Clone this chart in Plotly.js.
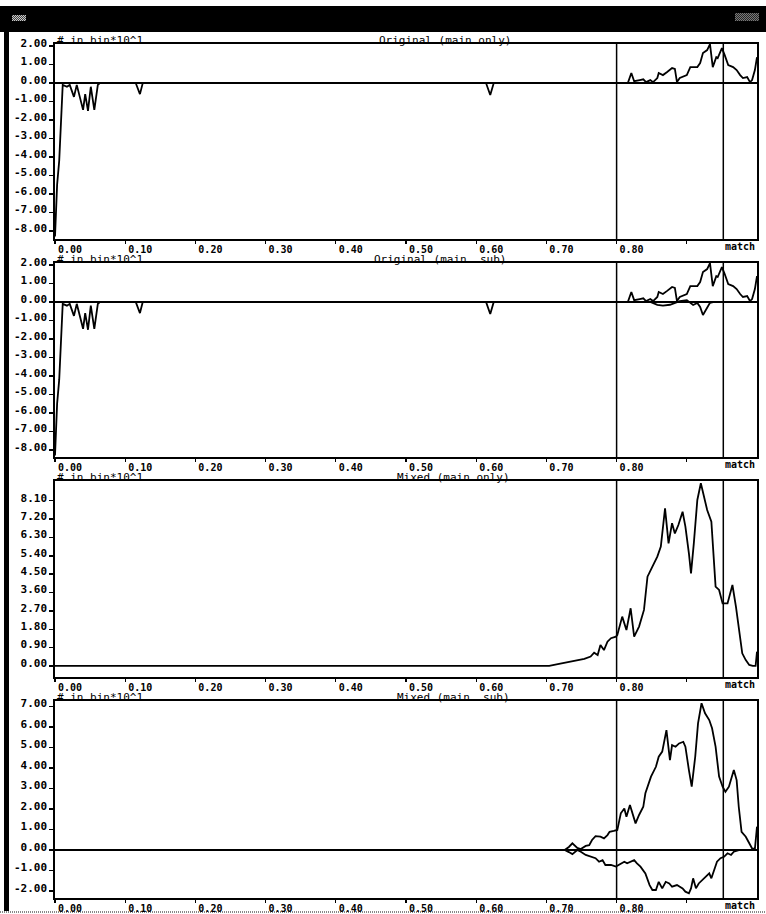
<!DOCTYPE html>
<html>
<head>
<meta charset="utf-8">
<script src="https://cdn.plot.ly/plotly-3.0.1.min.js"></script>
<style>
  html, body { margin: 0; padding: 0; background: #fff; }
  #wrap { position: relative; width: 766px; height: 914px; overflow: hidden; background: #fff; }
  #titlebar { position: absolute; left: 0; top: 6px; width: 766px; height: 26px; background: #000; }
  .dither { position: absolute; background: repeating-conic-gradient(#c8c8c8 0 25%, #404040 0 50%) 0 0 / 2px 2px; }
  #leftbar { position: absolute; left: 4px; top: 6px; width: 5px; height: 906px; background: #000; }
  #bottomline { position: absolute; left: 0; top: 911px; width: 766px; height: 2px;
                background: repeating-linear-gradient(90deg, #888 0 1px, #fff 1px 2px); }
  #chart { position: absolute; left: 0; top: 0; width: 766px; height: 914px; }
</style>
</head>
<body>
<div id="wrap">
  <div id="titlebar">
    <div class="dither" style="left:12px; top:9px; width:14px; height:6px;"></div>
    <div class="dither" style="left:735px; top:7px; width:24px; height:8px; opacity:0.6;"></div>
  </div>
  <div id="leftbar"></div>
  <div id="bottomline"></div>
  <div id="chart"></div>
</div>
<script>
// ---- axis ticks ----
const xTickVals = [0, 0.1, 0.2, 0.3, 0.4, 0.5, 0.6, 0.7, 0.8, 0.9];
const xTickText = ["0.00", "0.10", "0.20", "0.30", "0.40", "0.50", "0.60", "0.70", "0.80", ""];
const xEndLabel = "match";

const yTickValsOrig = [2, 1, 0, -1, -2, -3, -4, -5, -6, -7, -8];
const yTickTextOrig = ["2.00", "1.00", "0.00", "-1.00", "-2.00", "-3.00", "-4.00", "-5.00", "-6.00", "-7.00", "-8.00"];
const yTickValsMixMain = [8.1, 7.2, 6.3, 5.4, 4.5, 3.6, 2.7, 1.8, 0.9, 0];
const yTickTextMixMain = ["8.10", "7.20", "6.30", "5.40", "4.50", "3.60", "2.70", "1.80", "0.90", "0.00"];
const yTickValsMixSub = [7, 6, 5, 4, 3, 2, 1, 0, -1, -2];
const yTickTextMixSub = ["7.00", "6.00", "5.00", "4.00", "3.00", "2.00", "1.00", "0.00", "-1.00", "-2.00"];

// cut positions drawn as vertical markers
const cutLines = [0.8, 0.952];

const unitLabel = "# in bin*10^1";
const panelTitles = ["Original (main only)", "Original (main\u00a0 sub)", "Mixed (main only)", "Mixed (main\u00a0 sub)"];

// ---- histograms (# in bin, units of 10) ----
const origMainX = [0, 0.003, 0.006, 0.009, 0.011, 0.017, 0.021, 0.027, 0.031, 0.040, 0.043, 0.047, 0.051, 0.056, 0.061, 0.064,
  0.115, 0.121, 0.125, 0.614, 0.620, 0.625,
  0.801, 0.816, 0.821, 0.825, 0.833, 0.838, 0.842, 0.848, 0.852, 0.858, 0.860, 0.866, 0.872, 0.879, 0.883, 0.886, 0.890,
  0.900, 0.905, 0.909, 0.915, 0.919, 0.923, 0.929, 0.933, 0.937, 0.942, 0.944, 0.950, 0.954, 0.959, 0.966, 0.971,
  0.976, 0.980, 0.986, 0.990, 0.993, 0.997, 1.0];
const origMainY = [-8.3, -5.5, -4.2, -1.8, -0.1, -0.2, -0.1, -0.75, -0.1, -1.45, -0.6, -1.5, -0.2, -1.45, -0.1, 0,
  0, -0.6, 0, 0, -0.65, 0,
  0, 0, 0.54, 0.1, 0.16, 0.2, 0.05, 0.16, 0.05, 0.27, 0.54, 0.43, 0.6, 0.81, 0.76, 0.05, 0.27,
  0.43, 0.86, 0.86, 0.86, 1.08, 1.62, 1.78, 2.1, 0.86, 1.4, 1.35, 1.89, 1.51, 0.97, 0.86, 0.7,
  0.43, 0.27, 0.32, 0.05, 0.16, 0.7, 1.4];

const origSubX = [0, 0.848, 0.858, 0.866, 0.876, 0.883, 0.890, 0.900, 0.909, 0.915, 0.919, 0.923, 0.929, 0.933, 0.939, 1.0];
const origSubY = [0, 0, -0.15, -0.2, -0.15, -0.05, 0.05, 0.1, -0.16, -0.05, -0.27, -0.7, -0.32, -0.05, 0, 0];

const mixMainX = [0, 0.704, 0.718, 0.732, 0.744, 0.754, 0.763, 0.768, 0.773, 0.777, 0.782, 0.787, 0.792, 0.799,
  0.801, 0.808, 0.814, 0.820, 0.825, 0.832, 0.839, 0.844, 0.851, 0.858, 0.863, 0.869, 0.874, 0.879, 0.883, 0.888,
  0.894, 0.898, 0.903, 0.906, 0.910, 0.915, 0.920, 0.924, 0.929, 0.935, 0.939, 0.941, 0.946, 0.951, 0.958, 0.965,
  0.970, 0.974, 0.979, 0.984, 0.989, 0.994, 0.998, 1.0];
const mixMainY = [0, 0, 0.1, 0.2, 0.3, 0.35, 0.46, 0.65, 0.54, 1.03, 0.78, 1.19, 1.36, 1.44,
  1.52, 2.42, 1.76, 2.83, 1.44, 1.93, 2.75, 4.38, 4.87, 5.36, 5.85, 7.73, 6.01, 7.0, 6.5, 6.91,
  7.56, 6.83, 5.52, 4.54, 6.01, 8.14, 8.96, 8.3, 7.65, 7.07, 5.2, 3.89, 3.73, 3.07, 3.07, 3.97,
  2.91, 1.93, 0.62, 0.29, 0.05, 0, 0, 0.7];

const mixSumX = [0, 0.726, 0.732, 0.737, 0.744, 0.749, 0.756, 0.761, 0.765, 0.770, 0.777, 0.782, 0.787, 0.790, 0.796,
  0.801, 0.803, 0.806, 0.811, 0.814, 0.819, 0.822, 0.827, 0.832, 0.838, 0.841, 0.849, 0.856, 0.860, 0.865, 0.871,
  0.876, 0.879, 0.884, 0.889, 0.895, 0.898, 0.903, 0.907, 0.912, 0.916, 0.921, 0.926, 0.932, 0.936, 0.941, 0.946,
  0.951, 0.955, 0.960, 0.967, 0.971, 0.974, 0.978, 0.984, 0.989, 0.993, 0.997, 1.0];
const mixSumY = [0, 0, 0.15, 0.33, 0.1, 0.05, 0.2, 0.24, 0.49, 0.68, 0.65, 0.57, 0.73, 0.89, 0.93,
  0.98, 1.3, 1.79, 2.03, 1.62, 2.2, 1.87, 1.3, 1.71, 2.11, 2.77, 3.58, 4.06, 4.55, 4.8, 5.85,
  4.39, 5.12, 5.04, 5.2, 5.28, 5.04, 3.9, 3.09, 4.55, 6.18, 7.16, 6.67, 6.34, 5.94, 5.04, 3.58,
  3.09, 2.84, 3.09, 3.9, 3.41, 2.11, 0.89, 0.65, 0.33, 0.08, 0.05, 1.14];

const mixSubX = [0, 0.726, 0.732, 0.737, 0.744, 0.749, 0.756, 0.763, 0.770, 0.775, 0.780, 0.784, 0.792, 0.799, 0.803,
  0.811, 0.815, 0.820, 0.825, 0.829, 0.834, 0.841, 0.847, 0.851, 0.856, 0.860, 0.865, 0.870, 0.875, 0.879, 0.886,
  0.894, 0.898, 0.903, 0.906, 0.909, 0.913, 0.917, 0.922, 0.927, 0.932, 0.935, 0.939, 0.943, 0.948, 0.953, 0.958,
  0.963, 0.967, 0.974, 1.0];
const mixSubY = [0, 0, -0.1, -0.2, 0, -0.08, -0.24, -0.33, -0.4, -0.57, -0.49, -0.73, -0.73, -0.81, -0.73,
  -0.57, -0.65, -0.57, -0.49, -0.65, -0.81, -1.14, -1.71, -1.95, -1.95, -1.55, -1.87, -1.55, -1.63, -1.79, -1.71,
  -1.87, -2.03, -2.11, -1.87, -1.38, -1.87, -1.63, -1.46, -1.3, -1.14, -1.38, -0.98, -0.57, -0.4, -0.33, -0.16,
  -0.24, -0.08, 0, 0];

// ---- layout helpers ----
const MONO = "DejaVu Sans Mono, Liberation Mono, monospace";
const lineStyle = { color: "#000", width: 1.8 };

function xAxis(anchor) {
  return {
    anchor: anchor, domain: [0, 1], range: [0, 1], fixedrange: true,
    showline: true, mirror: true, linecolor: "#000", linewidth: 1.7,
    showgrid: false, zeroline: false,
    ticks: "outside", ticklen: 3, tickwidth: 1.4, tickcolor: "#000",
    tickmode: "array", tickvals: xTickVals, ticktext: xTickText,
    ticklabelshift: 15, ticklabelstandoff: -3,
    tickfont: { family: MONO, size: 10, color: "#000", weight: 700 }
  };
}
function yAxis(anchor, domain, range, vals, text, zero) {
  return {
    anchor: anchor, domain: domain, range: range, fixedrange: true,
    showline: true, mirror: true, linecolor: "#000", linewidth: 1.7,
    showgrid: false, zeroline: zero, zerolinecolor: "#000", zerolinewidth: 2,
    ticks: "outside", ticklen: 4, tickwidth: 1.4, tickcolor: "#000",
    tickmode: "array", tickvals: vals, ticktext: text,
    ticklabelshift: -3,
    tickfont: { family: MONO, size: 11, color: "#000", weight: 700 }
  };
}

const traces = [
  { x: origMainX, y: origMainY, xaxis: "x", yaxis: "y" },
  { x: origMainX, y: origMainY, xaxis: "x2", yaxis: "y2" },
  { x: origSubX, y: origSubY, xaxis: "x2", yaxis: "y2" },
  { x: mixMainX, y: mixMainY, xaxis: "x3", yaxis: "y3" },
  { x: mixSumX, y: mixSumY, xaxis: "x4", yaxis: "y4" },
  { x: mixSubX, y: mixSubY, xaxis: "x4", yaxis: "y4" }
].map(t => Object.assign(t, { type: "scatter", mode: "lines", line: lineStyle, hoverinfo: "skip" }));

const axisIds = ["", "2", "3", "4"];
const titleX = [0.556, 0.548, 0.567, 0.567];

const shapes = [];
const annotations = [];
axisIds.forEach((id, i) => {
  cutLines.forEach(c => shapes.push({
    type: "line", xref: "x" + id, yref: "y" + id + " domain",
    x0: c, x1: c, y0: 0, y1: 1, line: { color: "#000", width: 1.5 }
  }));
  annotations.push({
    xref: "x" + id, yref: "y" + id + " domain", x: 0, y: 1, xanchor: "left", yanchor: "bottom",
    xshift: 1, yshift: -4, borderpad: 0, showarrow: false, text: unitLabel,
    font: { family: MONO, size: 11, color: "#000" }
  });
  annotations.push({
    xref: "x" + id, yref: "y" + id + " domain", x: titleX[i], y: 1, xanchor: "center", yanchor: "bottom",
    yshift: -4, borderpad: 0, showarrow: false, text: panelTitles[i],
    font: { family: MONO, size: 11, color: "#000" }
  });
  annotations.push({
    xref: "x" + id, yref: "y" + id + " domain", x: 1, y: 0, xanchor: "right", yanchor: "top",
    xshift: -1, yshift: -1, borderpad: 0, showarrow: false, text: xEndLabel,
    font: { family: MONO, size: 10, color: "#000", weight: 700 }
  });
});

const layout = {
  width: 766, height: 914,
  margin: { l: 55, r: 9, t: 44, b: 16, pad: 0 },
  paper_bgcolor: "rgba(0,0,0,0)", plot_bgcolor: "#fff",
  showlegend: false,
  font: { family: MONO, size: 11, color: "#000" },
  xaxis: xAxis("y"), xaxis2: xAxis("y2"), xaxis3: xAxis("y3"), xaxis4: xAxis("y4"),
  yaxis: yAxis("x", [0.7717, 1.0], [-8.43, 2.11], yTickValsOrig, yTickTextOrig, true),
  yaxis2: yAxis("x2", [0.5164, 0.7436], [-8.38, 2.11], yTickValsOrig, yTickTextOrig, true),
  yaxis3: yAxis("x3", [0.2588, 0.4883], [-0.54, 9.07], yTickValsMixMain, yTickTextMixMain, false),
  yaxis4: yAxis("x4", [0, 0.2307], [-2.34, 7.27], yTickValsMixSub, yTickTextMixSub, true),
  shapes: shapes, annotations: annotations
};

Plotly.newPlot("chart", traces, layout, { staticPlot: true, displayModeBar: false });
</script>
</body>
</html>
